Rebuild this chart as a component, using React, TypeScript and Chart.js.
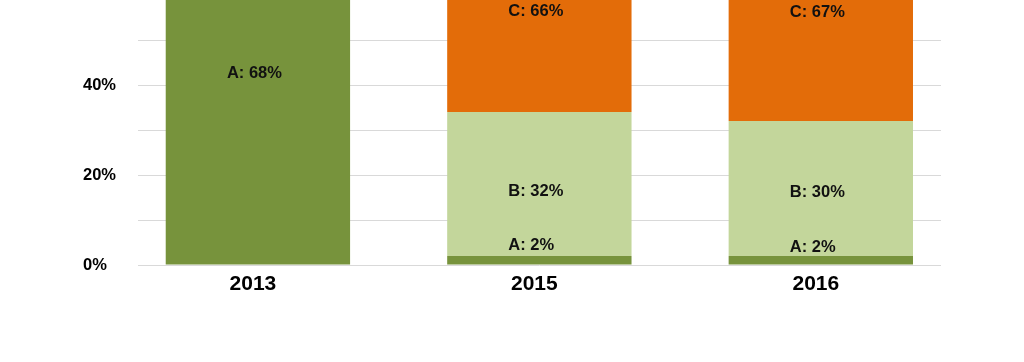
import React, { useEffect, useRef } from 'react';
import { Chart, registerables } from 'chart.js';

Chart.register(...registerables);

const categories = ['2013', '2015', '2016'];
const seriesNames = ['A', 'B', 'C'];
const seriesA = [68, 2, 2];
const seriesB = [null, 32, 30];
const seriesC = [null, 66, 67];
const yTickLabels = [0, 20, 40, 60];
// value (in %) at which each segment label is written
const labelAnchorA = [42.5, 4.3, 4.0];
const labelAnchorB = [null, 16.4, 16.1];
const labelAnchorC = [null, 56.4, 56.1];

const FONT = '"Liberation Sans", Arial, Helvetica, sans-serif';

const segmentLabels = {
  id: 'segmentLabels',
  afterDatasetsDraw(chart: any) {
    const ctx = chart.ctx;
    const yScale = chart.scales.y;
    const anchors = [labelAnchorA, labelAnchorB, labelAnchorC];
    ctx.save();
    ctx.font = `bold 16.5px ${FONT}`;
    ctx.fillStyle = '#111111';
    ctx.textAlign = 'left';
    ctx.textBaseline = 'middle';
    chart.data.datasets.forEach((ds: any, di: number) => {
      const meta = chart.getDatasetMeta(di);
      ds.data.forEach((v: any, i: number) => {
        if (v == null) return;
        const a = anchors[di][i];
        if (a == null) return;
        const bar = meta.data[i];
        ctx.fillText(`${seriesNames[di]}: ${v}%`, bar.x - 31, yScale.getPixelForValue(a));
      });
    });
    ctx.restore();
  },
};

export default function App() {
  const ref = useRef<HTMLCanvasElement | null>(null);

  useEffect(() => {
    if (!ref.current) return;
    const chart = new Chart(ref.current, {
      type: 'bar',
      data: {
        labels: categories,
        datasets: [
          { label: 'A', data: seriesA, backgroundColor: '#77933C', borderWidth: 0 },
          { label: 'B', data: seriesB, backgroundColor: '#C3D69B', borderWidth: 0 },
          { label: 'C', data: seriesC, backgroundColor: '#E36C09', borderWidth: 0 },
        ],
      },
      options: {
        responsive: false,
        animation: false,
        devicePixelRatio: 1,
        categoryPercentage: 1,
        barPercentage: 0.655,
        layout: { padding: { left: 83, right: 83, top: 20, bottom: 0 } },
        plugins: { legend: { display: false }, tooltip: { enabled: false } },
        scales: {
          x: {
            stacked: true,
            grid: { display: false, drawTicks: false },
            border: { display: false },
            ticks: {
              color: '#000',
              font: { family: FONT, size: 21, weight: 'bold' },
              padding: 7,
              labelOffset: -5,
            },
            afterBuildTicks: (s: any) => {
              s._startValue = -0.426;
              s._valueRange = 2.853;
            },
            afterFit: (s: any) => {
              s.height = 97;
            },
          },
          y: {
            stacked: true,
            min: 0,
            max: 60,
            grid: { color: '#D9D9D9', lineWidth: 1, drawTicks: false },
            border: { display: false },
            ticks: {
              stepSize: 10,
              autoSkip: false,
              crossAlign: 'far',
              color: '#000',
              font: { family: FONT, size: 16.5, weight: 'bold' },
              callback: (v: any) => (yTickLabels.includes(Number(v)) ? `${v}%` : ''),
            },
            afterFit: (s: any) => {
              s.width = 55;
            },
          },
        },
      } as any,
      plugins: [segmentLabels],
    });
    return () => chart.destroy();
  }, []);

  return (
    <div
      style={{
        position: 'fixed',
        top: 0,
        left: 0,
        width: 1024,
        height: 362,
        overflow: 'hidden',
        background: '#ffffff',
      }}
    >
      <canvas
        ref={ref}
        width={1024}
        height={387}
        style={{ position: 'absolute', top: -25, left: 0, width: 1024, height: 387 }}
      />
    </div>
  );
}
